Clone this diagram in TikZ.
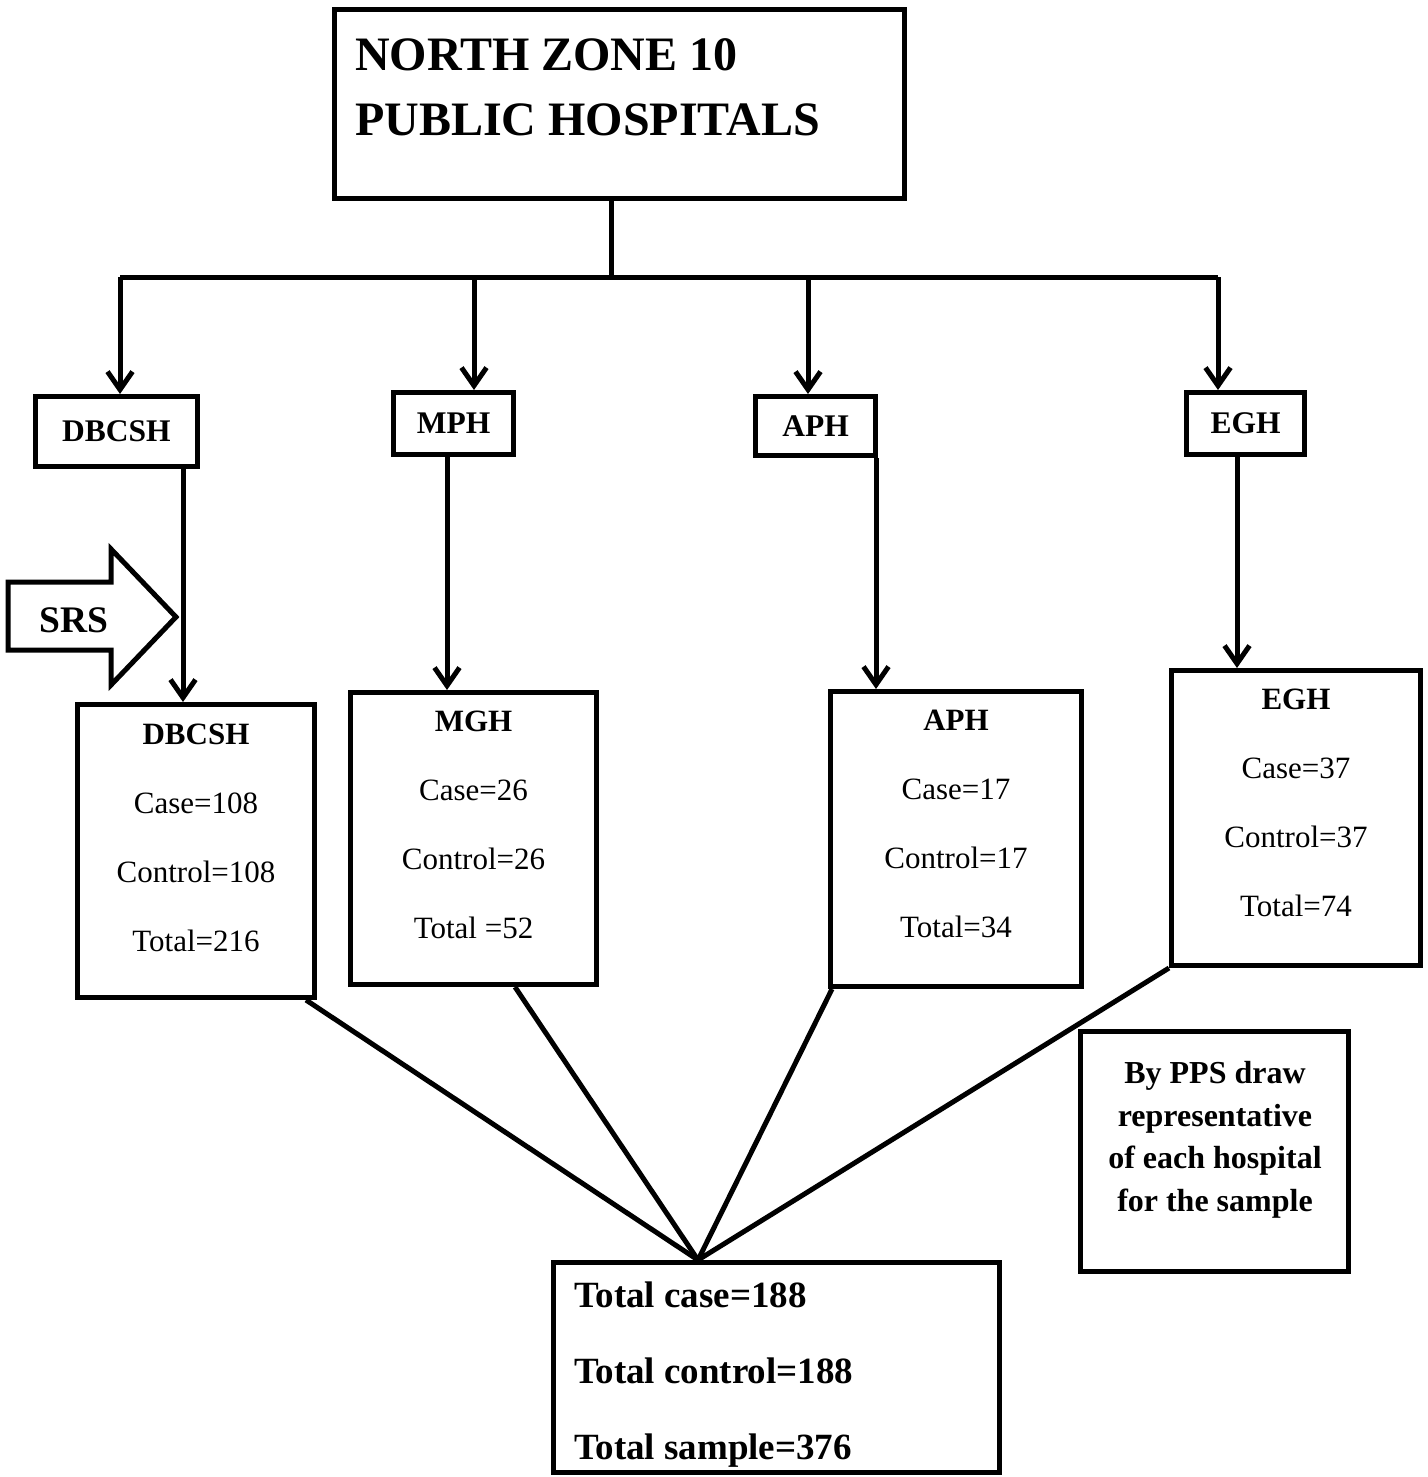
\documentclass[tikz,border=0pt]{standalone}
\usepackage{fontspec}
\setmainfont{Liberation Serif}
\usetikzlibrary{arrows.meta}

\begin{document}
\begin{tikzpicture}[x=1pt, y=-1pt,
				>={Straight Barb[length=18pt, width=25pt]},
				box/.style = {draw, line width=5pt, inner sep=0pt},
				line/.style = {line width=5pt},
				arr/.style = {line width=5pt, ->},
				hosp/.style = {font=\fontsize{31.5}{40}\selectfont\bfseries},
				count/.style = {align=center, inner sep=0pt, font=\fontsize{31}{69}\selectfont},
				bold/.style = {inner sep=0pt, font=\bfseries}
			]
			\useasboundingbox (0,0) rectangle (1427,1477);
			% top box
			\node[box, minimum width=570.5pt, minimum height=188pt] (nz) at (619.25,104) {};
			\node[bold, anchor=west, align=left, font=\fontsize{48}{65}\selectfont\bfseries] (nztext) at (355,87)
				{NORTH ZONE 10\\PUBLIC HOSPITALS};
			% hospitals
			\node[box, hosp, minimum width=162pt, minimum height=70pt] (s1) at (116.5,431.5) {DBCSH};
			\node[box, hosp, minimum width=120pt, minimum height=62pt] (s2) at (453.5,423.5) {MPH};
			\node[box, hosp, minimum width=120pt, minimum height=59pt] (s3) at (815.5,426) {APH};
			\node[box, hosp, minimum width=118pt, minimum height=62pt] (s4) at (1245.5,423.5) {EGH};
			% samples
			\node[box, minimum width=237pt, minimum height=293pt] (b1) at (196,851) {};
			\node[box, minimum width=246pt, minimum height=292pt] (b2) at (473.5,838.5) {};
			\node[box, minimum width=251pt, minimum height=295pt] (b3) at (956,839) {};
			\node[box, minimum width=249pt, minimum height=295pt] (b4) at (1296,818) {};
			\node[count] (b1text) at (196,838) {\textbf{DBCSH}\\Case=108\\Control=108\\Total=216};
			\node[count] (b2text) at (473.5,825) {\textbf{MGH}\\Case=26\\Control=26\\Total =52};
			\node[count] (b3text) at (956,824) {\textbf{APH}\\Case=17\\Control=17\\Total=34};
			\node[count] (b4text) at (1296,803) {\textbf{EGH}\\Case=37\\Control=37\\Total=74};
			% totals
			\node[box, minimum width=446pt, minimum height=210pt] (tot) at (776.5,1367.5) {};
			\node[bold, anchor=west, align=left, font=\fontsize{37}{76}\selectfont\bfseries] (tottext) at (574,1374.5)
				{Total case=188\\Total control=188\\Total sample=376};
			\node[box, minimum width=268pt, minimum height=240pt] (pps) at (1214.5,1151.5) {};
			\node[bold, align=center, font=\fontsize{32}{42.5}\selectfont\bfseries] (ppstext) at (1215,1140)
				{By PPS draw\\representative\\of each hospital\\for the sample};
			% SRS arrow
			\draw[line, line join=miter] (8,582) -- (111,582) -- (111,549) -- (176,617) -- (111,685)
				-- (111,650) -- (8,650) -- cycle;
			\node[bold, font=\fontsize{37.5}{40}\selectfont\bfseries] (srs) at (74,620) {SRS};
			% connectors
			\coordinate (bar) at (611,277);
			\coordinate (t1) at (120,277);
			\coordinate (t2) at (474,277);
			\coordinate (t3) at (808,277);
			\coordinate (t4) at (1218,277);
			\draw[line] (nz.south -| bar) -- (bar);
			\draw[line] (t1) -- (t4);
			\draw[arr] (t1) -- (t1 |- s1.north);
			\draw[arr] (t2) -- (t2 |- s2.north);
			\draw[arr] (t3) -- (t3 |- s3.north);
			\draw[arr] (t4) -- (t4 |- s4.north);
			\draw[arr] (183,0 |- s1.south) -- (183,0 |- b1.north);
			\draw[arr] (447,0 |- s2.south) -- (447,0 |- b2.north);
			\draw[arr] (876,0 |- s3.south) -- (876,0 |- b3.north);
			\draw[arr] (1237,0 |- s4.south) -- (1237,0 |- b4.north);
			\coordinate (meet) at (698,0 |- tot.north);
			\draw[line] (306,0 |- b1.south) -- (meet);
			\draw[line] (515,0 |- b2.south) -- (meet);
			\draw[line] (832,0 |- b3.south) -- (meet);
			\draw[line] (b4.south west) -- (meet);
		\end{tikzpicture}
\end{document}
